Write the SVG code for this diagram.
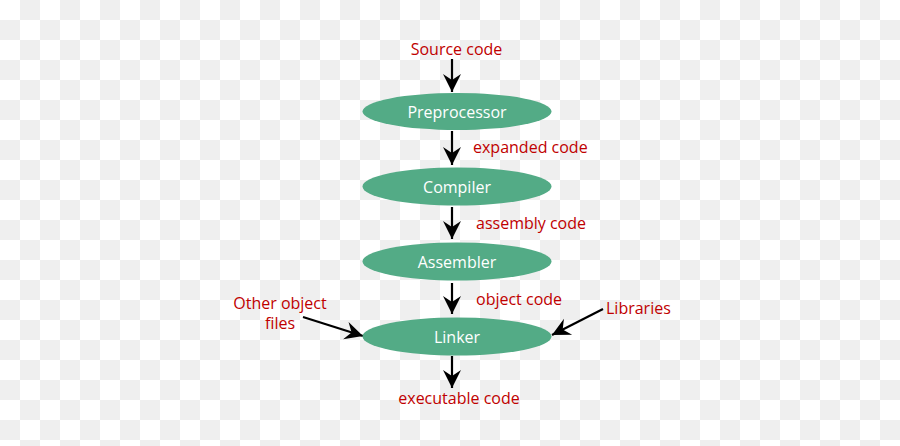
<svg xmlns="http://www.w3.org/2000/svg" width="900" height="446" viewBox="0 0 900 446">
  <defs>
    <pattern id="checker" x="0" y="0" width="40" height="40" patternUnits="userSpaceOnUse">
      <rect x="0" y="0" width="40" height="40" fill="#ffffff"/>
      <rect x="20" y="0" width="20" height="20" fill="#efefef"/>
      <rect x="0" y="20" width="20" height="20" fill="#efefef"/>
    </pattern>
    <marker id="arrow" markerUnits="userSpaceOnUse" markerWidth="24" markerHeight="24" viewBox="-20 -12 24 24" refX="0" refY="0" orient="auto">
      <path d="M0,0 L-18,-9 L-12,0 L-18,9 Z" fill="#000"/>
    </marker>
    <style>
      .node { fill: #53ab86; }
      .ntext { fill: #ffffff; font-family: "Open Sans", "Liberation Sans", sans-serif; font-size: 16px; text-anchor: middle; }
      .label { fill: #c00000; font-family: "Open Sans", "Liberation Sans", sans-serif; font-size: 16px; }
      .conn { stroke: #000; stroke-width: 2.2; fill: none; marker-end: url(#arrow); }
    </style>
  </defs>
  <rect x="0" y="0" width="900" height="446" fill="url(#checker)"/>

  <g id="connectors">
    <line class="conn" x1="452" y1="59" x2="452" y2="92"/>
    <line class="conn" x1="452" y1="131" x2="452" y2="165"/>
    <line class="conn" x1="452" y1="207" x2="452" y2="239"/>
    <line class="conn" x1="452" y1="283" x2="452" y2="314"/>
    <line class="conn" x1="452" y1="356" x2="452" y2="388"/>
    <line class="conn" x1="303" y1="317" x2="363" y2="336"/>
    <line class="conn" x1="603" y1="309" x2="552" y2="335"/>
  </g>

  <g id="preprocessor">
    <ellipse class="node" cx="457" cy="111.5" rx="94.5" ry="18.5"/>
    <text class="ntext" x="457" y="117.5">Preprocessor</text>
  </g>
  <g id="compiler">
    <ellipse class="node" cx="457" cy="186.5" rx="94.5" ry="19"/>
    <text class="ntext" x="457" y="192.5">Compiler</text>
  </g>
  <g id="assembler">
    <ellipse class="node" cx="457" cy="261.5" rx="94.5" ry="19"/>
    <text class="ntext" x="457" y="267.5">Assembler</text>
  </g>
  <g id="linker">
    <ellipse class="node" cx="457" cy="336.5" rx="94.5" ry="19"/>
    <text class="ntext" x="457" y="342.5">Linker</text>
  </g>

  <g id="labels">
    <text class="label" x="456.5" y="54.5" text-anchor="middle">Source code</text>
    <text class="label" x="473" y="152.5">expanded code</text>
    <text class="label" x="476" y="228.5">assembly code</text>
    <text class="label" x="476" y="304.5">object code</text>
    <text class="label" x="280" y="308.5" text-anchor="middle">Other object</text>
    <text class="label" x="280" y="328.5" text-anchor="middle">files</text>
    <text class="label" x="606" y="313.5">Libraries</text>
    <text class="label" x="459" y="403.5" text-anchor="middle">executable code</text>
  </g>
</svg>
